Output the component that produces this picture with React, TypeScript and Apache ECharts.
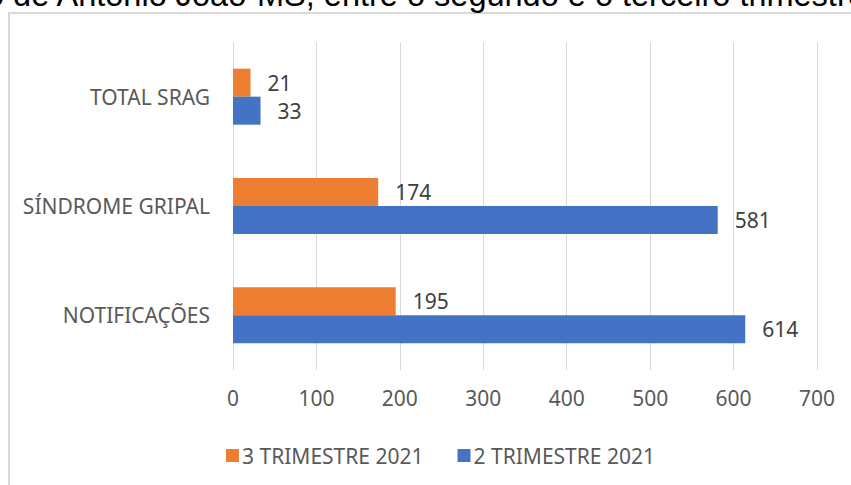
import React, { useEffect, useRef } from "react";
import * as echarts from "echarts";

const categories = ["NOTIFICAÇÕES", "SÍNDROME GRIPAL", "TOTAL SRAG"];
const seriesNames = ["3 TRIMESTRE 2021", "2 TRIMESTRE 2021"];
const trimestre3 = [195, 174, 21];
const trimestre2 = [614, 581, 33];
const xTicks = [0, 700, 100];
const titleText = "o de Antônio João-MS, entre o segundo e o terceiro trimestre de 2021";

export default function App() {
  const ref = useRef<HTMLDivElement>(null);
  useEffect(() => {
    if (!ref.current) return;
    const chart = echarts.init(ref.current, null, { renderer: "svg" });
    const font = "Noto Sans";
    const fs = 21;
    chart.setOption({
      animation: false,
      backgroundColor: "#ffffff",
      textStyle: { fontFamily: font },
      graphic: [
        {
          type: "rect",
          shape: { x: 9, y: 13, width: 900, height: 600 },
          style: { fill: "none", stroke: "#d9d9d9", lineWidth: 2 },
          silent: true,
        },
        {
          type: "text",
          x: -14,
          y: 11,
          style: {
            text: titleText,
            fontFamily: "Liberation Sans",
            fontSize: 32.5,
            fill: "#000000",
            verticalAlign: "bottom",
          },
          silent: true,
        },
      ],
      legend: {
        data: seriesNames,
        left: 221,
        top: 440,
        itemWidth: 13,
        itemHeight: 13,
        itemGap: 34,
        icon: "rect",
        textStyle: { fontFamily: font, fontSize: fs, color: "#595959", padding: [0, 0, 0, -2] },
      },
      grid: { left: 233, right: 34, top: 42, height: 328, containLabel: false },
      xAxis: {
        type: "value",
        min: xTicks[0],
        max: xTicks[1],
        interval: xTicks[2],
        axisLine: { show: false },
        axisTick: { show: false },
        splitLine: { lineStyle: { color: "#d9d9d9", width: 1 } },
        axisLabel: { fontFamily: font, fontSize: fs, color: "#595959", margin: 17 },
      },
      yAxis: {
        type: "category",
        data: categories,
        axisLine: { show: false },
        axisTick: { show: false },
        axisLabel: { fontFamily: font, fontSize: fs, color: "#595959", margin: 23 },
      },
      series: [
        {
          name: seriesNames[0],
          type: "bar",
          data: trimestre3,
          barWidth: 28,
          barGap: "0%",
          itemStyle: { color: "#ED7D31" },
          label: { show: true, position: "right", distance: 17, fontFamily: font, fontSize: fs, color: "#404040" },
        },
        {
          name: seriesNames[1],
          type: "bar",
          data: trimestre2,
          barWidth: 28,
          barGap: "0%",
          itemStyle: { color: "#4472C4" },
          label: { show: true, position: "right", distance: 17, fontFamily: font, fontSize: fs, color: "#404040" },
        },
      ],
    });
    return () => chart.dispose();
  }, []);
  return <div ref={ref} style={{ position: "fixed", left: 0, top: 0, width: 851, height: 485 }} />;
}
